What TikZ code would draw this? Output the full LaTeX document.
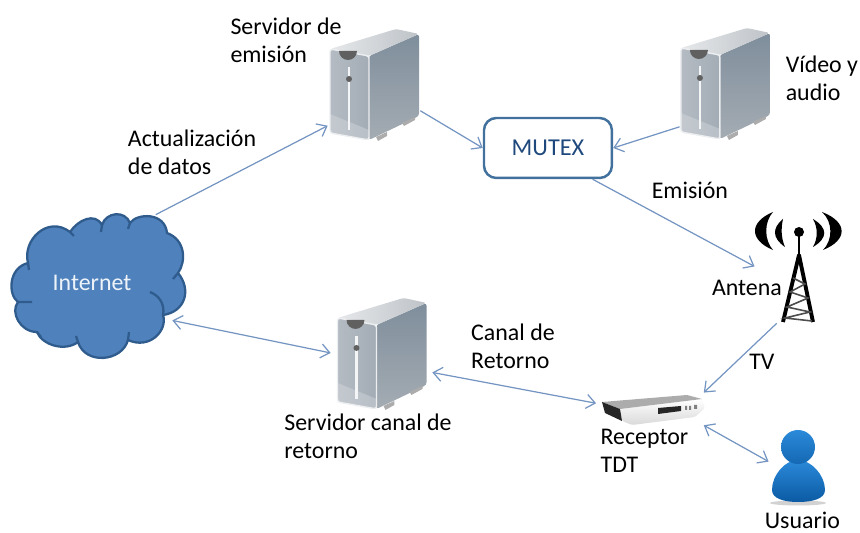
\documentclass[tikz,border=0pt]{standalone}
\usepackage{fontspec}
\setmainfont{Carlito}
\usetikzlibrary{arrows.meta}

\definecolor{linea}{HTML}{7495C2}
\definecolor{nube}{HTML}{4F81BD}
\definecolor{nubeborde}{HTML}{2F5C8C}
\definecolor{bordemutex}{HTML}{41719C}
\definecolor{textomutex}{HTML}{1F497D}
\definecolor{frente}{HTML}{B4BBC3}
\definecolor{frenteb}{HTML}{A3ACB5}
\definecolor{lado}{HTML}{7F8E9C}
\definecolor{ladob}{HTML}{A4ACB3}
\definecolor{tapa}{HTML}{E6E8EA}
\definecolor{tapab}{HTML}{BEC3C8}
\definecolor{usuarioa}{HTML}{2B8ADA}
\definecolor{usuariob}{HTML}{0B5AA3}

\tikzset{
  flecha/.style={draw=linea, line width=0.7pt, >={Straight Barb[length=5pt,width=8pt]}},
  etiqueta/.style={align=left, inner sep=0pt, font=\fontsize{13.6}{15.9}\selectfont},
  icono/.style={inner sep=0pt, minimum width=#1},
  pics/servidor/.style={code={
    % front, side and top faces
    \path[rounded corners=1.5pt, left color=frente, right color=frenteb] (-44,-35) -- (-5,-28) -- (-5,56) -- (-44,49) -- cycle;
    \path[rounded corners=1.5pt, top color=lado, bottom color=ladob] (-5,-28) -- (45,-50) -- (45,32) -- (-5,56) -- cycle;
    \path[rounded corners=1.5pt, left color=tapa, right color=tapab] (-44,-35) -- (22,-55) -- (45,-50) -- (-5,-28) -- cycle;
    \fill[white!60!frente, opacity=0.35] (-44,49) -- (-44,30) -- (-5,46) -- (-5,56) -- cycle;
    \draw[white!75!frente, line width=0.8pt, rounded corners=1.5pt] (-44,-35) -- (-5,-28) -- (-5,56) -- (-44,49) -- cycle;
    \fill[gray!75!black] (-35,-33) arc[start angle=180, end angle=360, x radius=9, y radius=-9] -- cycle;
    \draw[white!85!frente, line width=1.6pt] (-25,-17) -- (-25,46);
    \fill[gray!75!black] (-25,-5) circle (3);
    \fill[gray!65] (2,53) -- (13,48) -- (13,52) -- (4,57) -- cycle;
    \fill[gray!65] (28,39) -- (41,33) -- (41,36) -- (30,42) -- cycle;
  }}
}

\begin{document}
\begin{tikzpicture}[x=0.02cm, y=-0.02cm]
  \useasboundingbox (0,0) rectangle (860,533);

% define the cloud
  \draw[draw=nubeborde, line width=1.3pt, fill=nube, line join=round]
    (102,225) .. controls (106,212) and (125,210) .. (130,223)
    .. controls (137,213) and (165,212) .. (167,233)
    .. controls (186,240) and (186,262) .. (178,273)
    .. controls (192,290) and (185,312) .. (163,315)
    .. controls (168,330) and (150,350) .. (128,340)
    .. controls (122,362) and (85,365) .. (78,342)
    .. controls (65,352) and (42,345) .. (37,332)
    .. controls (20,332) and (10,312) .. (18,302)
    .. controls (8,295) and (8,268) .. (28,263)
    .. controls (22,240) and (48,215) .. (70,232)
    .. controls (78,220) and (95,212) .. (102,225) -- cycle;
  \draw[draw=nubeborde, line width=1.3pt]
    (150,292) .. controls (160,296) and (165,305) .. (163,315)
    (178,273) -- (173,279)
    (70,232) -- (74,236)
    (102,225) -- (101,232)
    (130,223) -- (128,229)
    (18,302) -- (32,302)
    (28,263) -- (29,270)
    (37,332) -- (41,337)
    (78,342) -- (76,336)
    (128,340) -- (129,332);

% define the nodes
  \node[icono=3.2cm, minimum height=2.72cm, text=white!90!nube, font=\fontsize{13.6}{16}\selectfont] (internet) at (92,283) {Internet};
  \node[icono=1.84cm, minimum height=2.24cm] (emision) at (374,84) {};
  \node[draw=bordemutex, line width=1.4pt, rounded corners=7pt, minimum width=2.56cm, minimum height=1.2cm,
        text=textomutex, inner sep=0pt, font=\fontsize{13.8}{16}\selectfont]
        (mutex) [right of=emision, node distance=3.48cm, yshift=-1.28cm] {MUTEX};
  \node[icono=1.8cm, minimum height=2.2cm] (video) [right of=emision, node distance=7.02cm, yshift=0.02cm] {};
  \node[icono=1.7cm, minimum height=2.26cm] (antena) [right of=emision, node distance=8.47cm, yshift=-3.65cm] {};
  \node[icono=2.02cm, minimum height=2.2cm] (canal) [below of=emision, node distance=5.38cm, xshift=0.15cm] {};
  \node[icono=2.14cm, minimum height=0.64cm] (receptor) [right of=canal, node distance=5.37cm, yshift=-1.12cm] {};
  \node[icono=1.18cm, minimum height=1.52cm] (usuario) [right of=receptor, node distance=2.97cm, yshift=-1.18cm] {};

% define the icons
  \pic at (emision) {servidor};
  \pic at (video) {servidor};
  \pic at (canal) {servidor};

  % antenna
  \fill (773,212) .. controls (749,222) and (749,240) .. (773,250) .. controls (764,240) and (764,222) .. cycle;
  \fill (783,219) .. controls (772,228) and (772,238) .. (785,247) .. controls (781,238) and (781,228) .. cycle;
  \fill (822,212) .. controls (848,222) and (848,240) .. (823,250) .. controls (833,240) and (833,222) .. cycle;
  \fill (813,219) .. controls (828,228) and (828,238) .. (813,247) .. controls (818,238) and (818,228) .. cycle;
  \fill (799,232) circle (5);
  \draw[line width=1.4pt] (799,232) -- (799,257);
  \draw[line width=2.2pt, line join=round] (783,322) -- (799,255) -- (813,322);
  \draw[black!70, line width=0.9pt] (793,278) -- (805,284) -- (790,292) -- (808,298) -- (787,307) -- (810,312) -- (785,318) -- (812,321);

  % set-top box
  \path[rounded corners=1pt, top color=white, bottom color=gray!30] (620,409) -- (702,399) -- (705,408) -- (695,417) -- (632,425) -- (622,421) -- cycle;
  \fill[gray!65] (602,402) -- (687,395) -- (702,399) -- (620,409) -- cycle;
  \fill[black!85] (602,402) -- (620,409) -- (622,421) -- (605,413) -- cycle;
  \fill[black!85] (658,408) -- (681,406) -- (681,411) -- (658,414) -- cycle;
  \fill[gray] (685,406) rectangle (687,410) (689,406) rectangle (691,410) (694,405) rectangle (697,409);

  % user
  \fill[gray!35] (798,503) ellipse (28 and 2.5);
  \path[top color=usuarioa, bottom color=usuariob] (798,460) .. controls (785,460) and (772,475) .. (772,490)
    .. controls (772,499) and (785,502) .. (798,502) .. controls (812,502) and (825,499) .. (825,490)
    .. controls (825,475) and (811,460) .. (798,460) -- cycle;
  \path[top color=usuarioa, bottom color=usuariob!70!usuarioa] (798,447) circle (17);

% define the labels
  \node[etiqueta] (temision) [left of=emision, node distance=1.76cm, yshift=0.88cm] {Servidor de\\emisión};
  \node[etiqueta] (tdatos) [left of=emision, node distance=3.64cm, yshift=-1.36cm] {Actualización\\de datos};
  \node[etiqueta] (tvideo) [right of=video, node distance=1.94cm, yshift=0.1cm] {Vídeo y\\audio};
  \node[etiqueta] (temite) [right of=mutex, node distance=2.84cm, yshift=-0.84cm] {Emisión};
  \node[etiqueta] (tantena) [left of=antena, node distance=1.01cm, yshift=-0.43cm] {Antena};
  \node[etiqueta] (ttv) [left of=antena, node distance=0.71cm, yshift=-1.91cm] {TV};
  \node[etiqueta] (tretorno) [right of=canal, node distance=2.63cm, yshift=0.14cm] {Canal de\\Retorno};
  \node[etiqueta] (tcanal) [below of=canal, node distance=1.66cm, xshift=-0.27cm] {Servidor canal de\\retorno};
  \node[etiqueta] (treceptor) [below of=receptor, node distance=0.84cm, xshift=-0.11cm] {Receptor\\TDT};
  \node[etiqueta] (tusuario) [below of=usuario, node distance=1.05cm, xshift=0.08cm] {Usuario};

% define the links
  \draw[flecha,->] (internet.47) -- (emision.222);
  \draw[flecha,->] (emision.-30) -- (mutex.west);
  \draw[flecha,->] (video.224) -- (mutex.east);
  \draw[flecha,->] (mutex.-35) -- (antena.west);
  \draw[flecha,->] (antena.250) -- (receptor.north east);
  \draw[flecha,<->] (internet.-25) -- (canal.west);
  \draw[flecha,<->] (canal.-21) -- (receptor.174);
  \draw[flecha,<->] (receptor.south east) -- (usuario.168);

\end{tikzpicture}
\end{document}
